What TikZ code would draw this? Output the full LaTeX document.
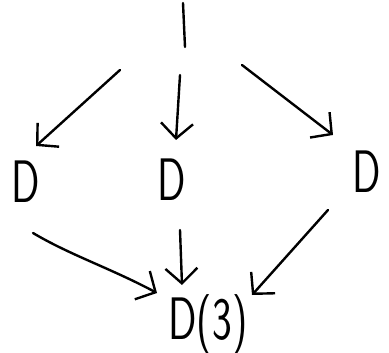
\documentclass[tikz,border=0pt]{standalone}
\usetikzlibrary{arrows.meta}
\begin{document}
\begin{tikzpicture}[x=1pt,y=-1pt,
  ink/.style={line width=2.4pt,line cap=round,line join=round},
  arr/.style={ink,-{Straight Barb[length=15pt,width=32pt,line width=2.4pt]}},
  lbl/.style={inner sep=0pt,font=\fontsize{60}{60}\selectfont\sffamily}]
\useasboundingbox (0,0) rectangle (389,353);
\coordinate (t0) at (183,3);
\coordinate (t1) at (185,47);
\coordinate (sl) at (120,70);
\coordinate (sm) at (180,75);
\coordinate (sr) at (242,65);
\node[lbl] (d1) at (26,182) {\scalebox{0.7}[1]{D}};
\node[lbl] (d2) at (172,180) {\scalebox{0.7}[1]{D}};
\node[lbl] (d3) at (367,172) {\scalebox{0.7}[1]{D}};
\node[lbl] (d4) at (208,325) {\scalebox{0.7}[1]{D(3)}};
\draw[ink] (t0) -- (t1);
\draw[arr] (sl) -- (36,146) coordinate (el);
\draw[arr] (sm) -- (176,140) coordinate (em);
\draw[arr] (sr) -- (333,135) coordinate (er);
\coordinate (b1) at (33,233);
\coordinate (b2) at (180,230);
\coordinate (b3) at (328,210);
\draw[arr] (b1) .. controls (70,255) and (110,268) .. (157,293);
\draw[arr] (b2) -- (182,285);
\draw[arr] (b3) -- (252,295);
\end{tikzpicture}
\end{document}
